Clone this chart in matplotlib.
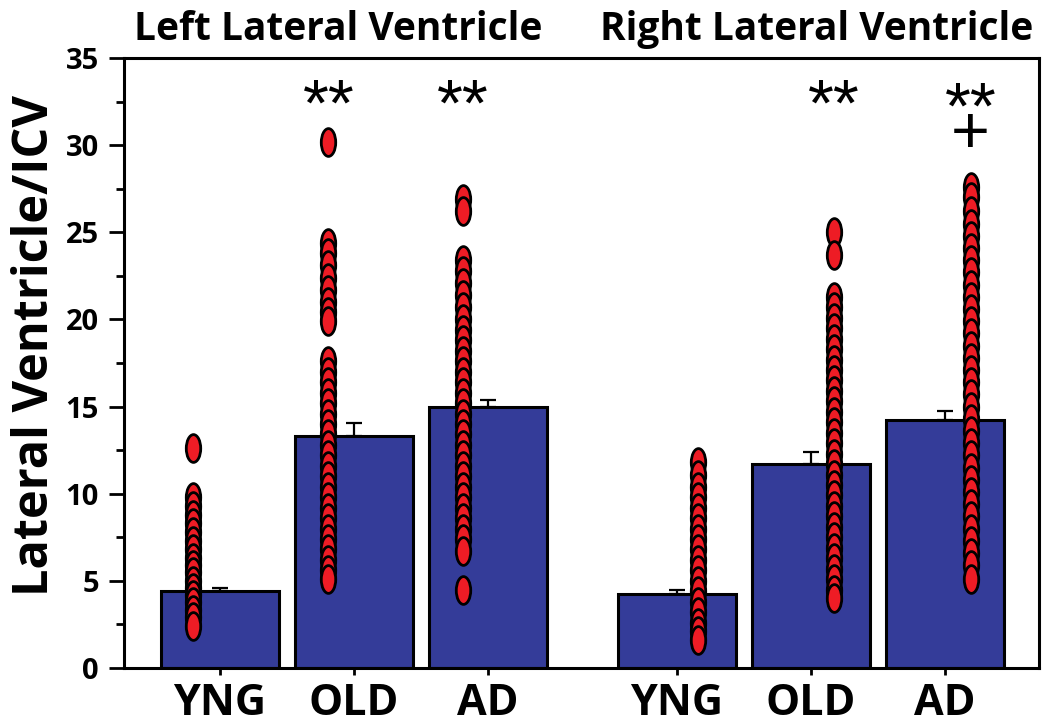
import matplotlib
matplotlib.use("Agg")
import matplotlib.pyplot as plt
from matplotlib.path import Path
from matplotlib.transforms import Affine2D
from matplotlib.ticker import MultipleLocator

# groups / bars
groups = ["Left Lateral Ventricle", "Right Lateral Ventricle"]
labels = ["YNG", "OLD", "AD", "YNG", "OLD", "AD"]
means = [4.4, 13.3, 14.95, 4.25, 11.7, 14.25]
sems = [0.2, 0.75, 0.4, 0.2, 0.7, 0.5]
marks = ["", "**", "**", "", "**", "**\n+"]

# individual subjects
pts_l_yng = [12.6, 9.8, 9.3, 8.8, 8.3, 7.8, 7.3, 6.8, 6.3, 5.9, 5.5, 5.0, 4.6, 4.2, 3.8, 3.3, 2.9, 2.4]
pts_l_old = [30.2, 24.4, 23.8, 23.1, 22.4, 21.7, 21.0, 20.4, 19.9, 17.6, 17.0, 16.4, 15.8, 15.2,
             14.6, 14.0, 13.4, 12.8, 12.2, 11.6, 11.0, 10.4, 9.8, 9.2, 8.6, 8.0, 7.4, 6.8, 6.2, 5.6, 5.1]
pts_l_ad = [26.9, 26.2, 23.4, 22.8, 22.1, 21.4, 20.7, 20.0, 19.4, 18.8, 18.2, 17.6, 17.0, 16.4,
            15.8, 15.2, 14.6, 14.0, 13.4, 12.8, 12.2, 11.6, 11.0, 10.4, 9.8, 9.2, 8.6, 8.0, 7.4, 6.7, 4.5]
pts_r_yng = [11.8, 11.1, 10.4, 9.8, 9.2, 8.6, 8.0, 7.4, 6.8, 6.2, 5.6, 5.0, 4.4, 3.8, 3.2, 2.6, 2.1, 1.6]
pts_r_old = [25.0, 23.7, 21.3, 20.7, 20.1, 19.5, 18.9, 18.3, 17.7, 17.1, 16.5, 15.9, 15.3, 14.7,
             14.1, 13.5, 12.9, 12.3, 11.7, 11.1, 10.5, 9.9, 9.3, 8.7, 8.1, 7.5, 6.9, 6.3, 5.7, 5.1, 4.5, 4.0]
pts_r_ad = [27.6, 27.0, 26.2, 25.5, 24.8, 24.1, 23.4, 22.7, 22.0, 21.3, 20.6, 19.9, 19.2, 18.5,
            17.8, 17.1, 16.4, 15.7, 15.0, 14.3, 13.6, 12.9, 12.2, 11.5, 10.8, 10.1, 9.4, 8.7, 8.0,
            7.3, 6.6, 5.9, 5.1]
points = [pts_l_yng, pts_l_old, pts_l_ad, pts_r_yng, pts_r_old, pts_r_ad]

# layout
xpos = [0, 1, 2, 3.41, 4.41, 5.41]
dot_off = [-0.2, -0.19, -0.19, 0.16, 0.17, 0.19]
star_y = [0, 33.9, 33.9, 0, 33.9, 33.7]
group_x = [0.88, 4.45]

BLUE = "#343c99"
RED = "#ee1c25"
FONT = "Open Sans"

# tall ellipse marker
ellipse = Path.unit_circle().transformed(Affine2D().scale(0.52, 1.0))

fig = plt.figure(figsize=(10.5, 7.27), dpi=100)
ax = fig.add_axes([0.118, 0.0812, 0.8715, 0.839])

ax.bar(xpos, means, width=0.88, color=BLUE, edgecolor="black", linewidth=2.2, zorder=2)
ax.errorbar(xpos, means, yerr=[[0] * 6, sems], fmt="none", ecolor="black",
            elinewidth=1.6, capsize=6, capthick=1.6, zorder=3)

for i, vals in enumerate(points):
    ax.plot([xpos[i] + dot_off[i]] * len(vals), vals, linestyle="none", marker=ellipse,
            markersize=20, markerfacecolor=RED, markeredgecolor="black",
            markeredgewidth=2.0, zorder=4)

for i, m in enumerate(marks):
    if m:
        ax.text(xpos[i] + dot_off[i], star_y[i], m, ha="center", va="top", fontsize=48,
                family="Liberation Sans", linespacing=0.22)

for gx, g in zip(group_x, groups):
    ax.text(gx, 1.03, g, transform=ax.get_xaxis_transform(), ha="center", va="baseline",
            fontsize=28, fontweight="bold", family=FONT)

ax.set_xlim(-0.716, 6.11)
ax.set_ylim(0, 35)
ax.yaxis.set_major_locator(MultipleLocator(5))
ax.yaxis.set_minor_locator(MultipleLocator(2.5))
ax.set_xticks(xpos)
ax.set_xticklabels(labels, fontsize=31, fontweight="bold", family=FONT)
for t in ax.get_yticklabels():
    t.set_fontsize(21)
    t.set_fontweight("bold")
    t.set_family(FONT)
ax.tick_params(axis="y", which="major", direction="out", length=11, width=2, pad=7)
ax.tick_params(axis="y", which="minor", direction="out", length=6, width=2)
ax.tick_params(axis="x", direction="out", length=5, width=2, pad=5)
ax.set_ylabel("Lateral Ventricle/ICV", fontsize=35, fontweight="bold", family=FONT)
ax.yaxis.set_label_coords(-0.07, 0.528)

for s in ax.spines.values():
    s.set_linewidth(2.2)

fig.savefig("out.png", dpi=100)
